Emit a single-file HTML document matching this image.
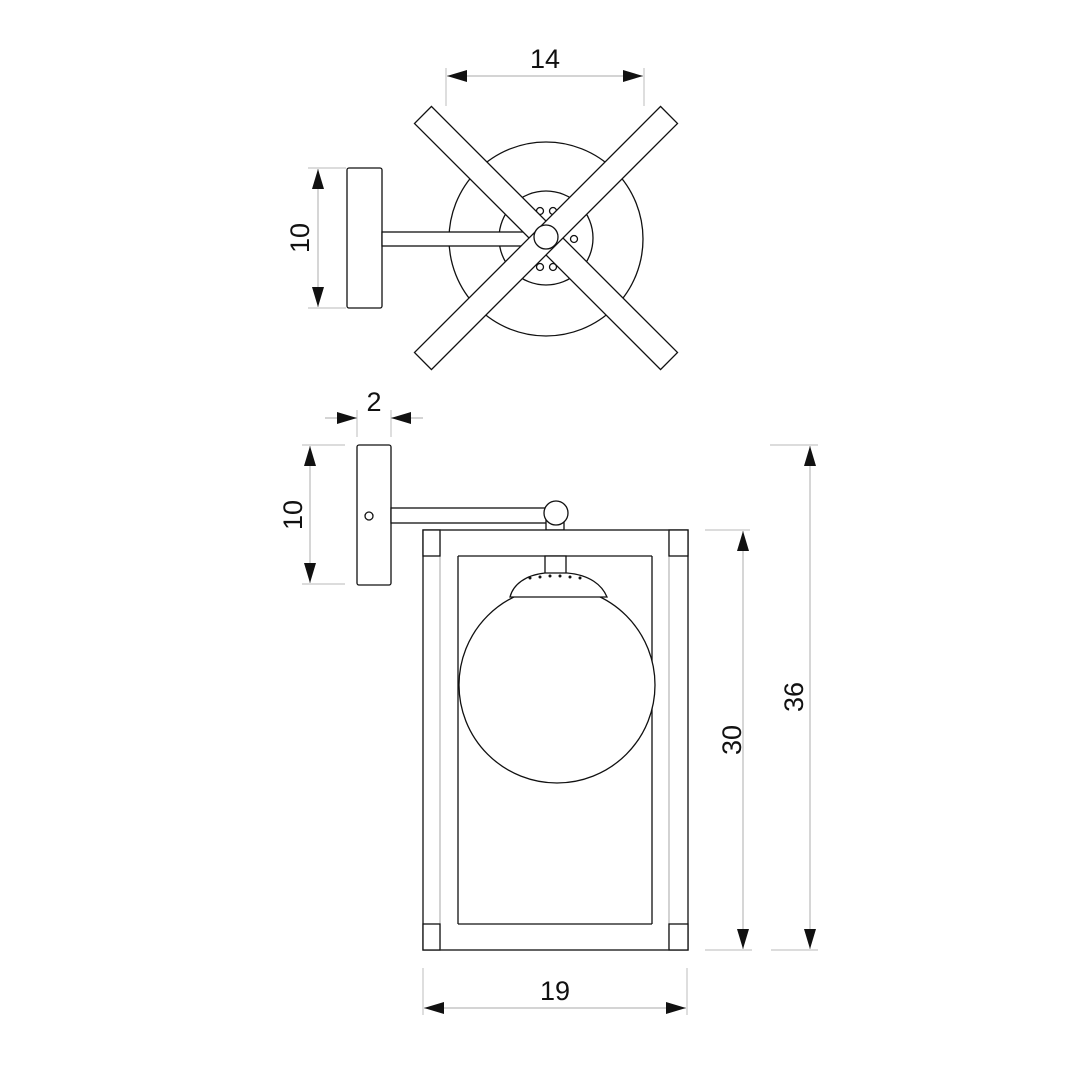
<!DOCTYPE html>
<html><head><meta charset="utf-8"><style>html,body{margin:0;padding:0;background:#fff}svg{display:block}</style></head>
<body>
<svg width="1080" height="1080" viewBox="0 0 1080 1080" xmlns="http://www.w3.org/2000/svg" font-family="Liberation Sans, sans-serif">
<defs>
<marker id="a" markerWidth="20" markerHeight="12" refX="20" refY="6" orient="auto-start-reverse" markerUnits="userSpaceOnUse"><path d="M0,0 L20,6 L0,12 Z" fill="#111"/></marker>
</defs>
<g stroke="#c8c8c8" stroke-width="1.2" fill="none">
<!-- 14 ext -->
<line x1="446" y1="68" x2="446" y2="106"/><line x1="644" y1="68" x2="644" y2="106"/>
<!-- 10 top ext -->
<line x1="308" y1="168" x2="346" y2="168"/><line x1="308" y1="308" x2="346" y2="308"/>
<!-- 2 ext -->
<line x1="357" y1="410" x2="357" y2="437"/><line x1="391" y1="410" x2="391" y2="437"/>
<!-- 10 front ext -->
<line x1="302" y1="445" x2="345" y2="445"/><line x1="302" y1="584" x2="345" y2="584"/>
<!-- 30 ext -->
<line x1="705" y1="530" x2="750" y2="530"/><line x1="705" y1="950" x2="752" y2="950"/>
<!-- 36 ext -->
<line x1="770" y1="445" x2="818" y2="445"/><line x1="771" y1="950" x2="818" y2="950"/>
<!-- 19 ext -->
<line x1="423" y1="968" x2="423" y2="1015"/><line x1="687" y1="968" x2="687" y2="1015"/>
</g>
<g stroke="#bbb" stroke-width="1.2">
<line x1="447" y1="76" x2="643" y2="76" marker-start="url(#a)" marker-end="url(#a)"/>
<line x1="318" y1="169" x2="318" y2="307" marker-start="url(#a)" marker-end="url(#a)"/>
<line x1="310" y1="446" x2="310" y2="583" marker-start="url(#a)" marker-end="url(#a)"/>
<line x1="743" y1="531" x2="743" y2="949" marker-start="url(#a)" marker-end="url(#a)"/>
<line x1="810" y1="446" x2="810" y2="949" marker-start="url(#a)" marker-end="url(#a)"/>
<line x1="424" y1="1008" x2="686" y2="1008" marker-start="url(#a)" marker-end="url(#a)"/>
<line x1="325" y1="418" x2="357" y2="418" marker-end="url(#a)"/>
<line x1="423" y1="418" x2="391" y2="418" marker-end="url(#a)"/>
</g>
<g fill="#111" font-size="27" text-anchor="middle">
<text x="545" y="68">14</text>
<text x="374" y="411">2</text>
<text x="555" y="1000">19</text>
<text transform="translate(309,238) rotate(-90)">10</text>
<text transform="translate(302,515) rotate(-90)">10</text>
<text transform="translate(741,740) rotate(-90)">30</text>
<text transform="translate(803,697) rotate(-90)">36</text>
</g>
<!-- top view -->
<g stroke="#111" stroke-width="1.3" fill="#fff">
<circle cx="546" cy="239" r="97"/>
<circle cx="546" cy="238" r="47"/>
<circle cx="540" cy="211" r="3.5"/><circle cx="553" cy="211" r="3.5"/>
<circle cx="540" cy="267" r="3.5"/><circle cx="553" cy="267" r="3.5"/>
<circle cx="574" cy="239" r="3.5"/>
<rect x="347" y="168" width="35" height="140" rx="2"/>
<rect x="382" y="232" width="160" height="14"/>
<g transform="translate(546,238) rotate(45)"><rect x="-174" y="-12" width="348" height="24"/></g>
<g transform="translate(546,238) rotate(-45)"><rect x="-174" y="-12" width="348" height="24"/></g>
<circle cx="546" cy="237" r="12"/>
</g>
<!-- front view -->
<g stroke="#111" stroke-width="1.3" fill="#fff">
<rect x="357" y="445" width="34" height="140" rx="2"/>
<rect x="391" y="508" width="156" height="15"/>
<rect x="546" y="520" width="18" height="10"/>
<circle cx="556" cy="513" r="12"/>
<circle cx="369" cy="516" r="4"/>
<rect x="423" y="530" width="265" height="420"/>
<line x1="458" y1="556" x2="458" y2="924"/><line x1="652" y1="556" x2="652" y2="924"/>
<line x1="458" y1="556" x2="652" y2="556"/><line x1="458" y1="924" x2="652" y2="924"/>
<line x1="440" y1="530" x2="440" y2="950" stroke="#bbb"/><line x1="669" y1="530" x2="669" y2="950" stroke="#bbb"/>
<rect x="423" y="530" width="17" height="26"/><rect x="423" y="924" width="17" height="26"/>
<rect x="669" y="530" width="19" height="26"/><rect x="669" y="924" width="19" height="26"/>
<circle cx="557" cy="685" r="98"/>
<rect x="545" y="556" width="21" height="19"/>
<path d="M510,597 C513,585 525,575 545,573 L567,573 C590,575 602,585 607,597 Z"/>
</g>
<g fill="#111"><circle cx="530" cy="578" r="1.5"/><circle cx="540" cy="577" r="1.5"/><circle cx="550" cy="576" r="1.5"/><circle cx="560" cy="576" r="1.5"/><circle cx="570" cy="577" r="1.5"/><circle cx="580" cy="578" r="1.5"/></g>
</svg>
</body></html>
